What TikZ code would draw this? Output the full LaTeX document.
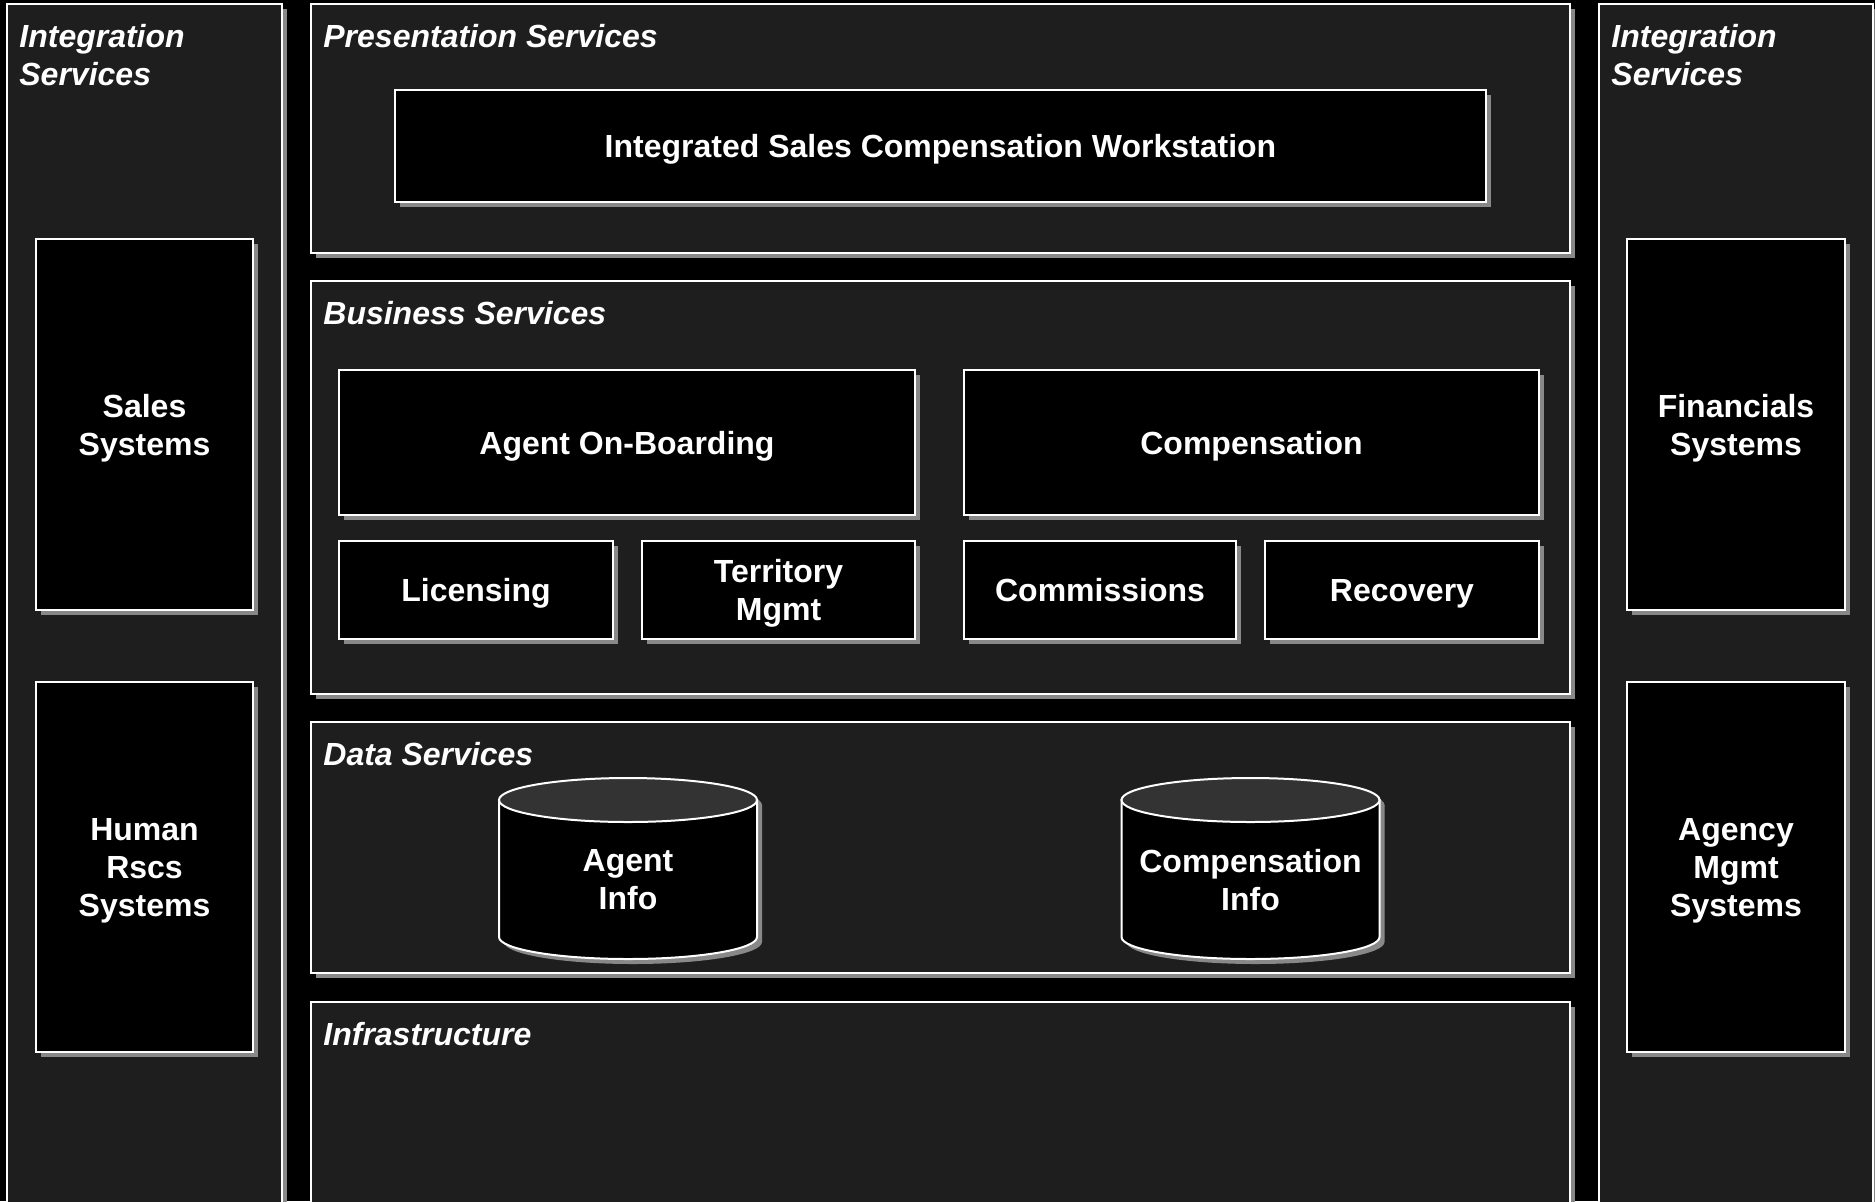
\documentclass[tikz,border=0pt]{standalone}
\usepackage{fontspec}
\setmainfont{Liberation Sans}
\usepackage{tikz}
\usetikzlibrary{shadows}
\definecolor{PanelGrey}{RGB}{30,30,30}
\definecolor{ShadowGrey}{RGB}{136,136,136}
\definecolor{CylTop}{RGB}{51,51,51}
\newlength\pxu
\setlength\pxu{0.5pt}

\begin{document}
\begin{tikzpicture}[x=\pxu,y=-\pxu,
  shd/.style={drop shadow={shadow xshift=2.5pt,shadow yshift=-2.5pt,fill=ShadowGrey,opacity=1}},
  panel/.style n args={2}{draw=white,line width=1pt,fill=PanelGrey,minimum width=#1*\pxu,minimum height=#2*\pxu,inner sep=0pt,shd},
  blk/.style n args={2}{draw=white,line width=1pt,fill=black,text=white,align=center,font=\bfseries\fontsize{16}{19}\selectfont,text depth=0pt,minimum width=#1*\pxu,minimum height=#2*\pxu,inner sep=0pt,shd},
  lbl/.style={text=white,font=\bfseries\itshape\fontsize{16}{19}\selectfont,align=left,anchor=north west,inner sep=0pt},
  dbtext/.style={text=white,align=center,font=\bfseries\fontsize{16}{19}\selectfont,inner sep=0pt}]
\useasboundingbox (0,0) rectangle (1875,1201);
\clip (0,0) rectangle (1875,1201);
\fill[black] (0,0) rectangle (1875,1201);
% layers
\node[panel={275}{1211}] (intL) at (144.5,609.5) {};
\node[panel={274}{1211}] (intR) at (1736,609.5) {};
\node[panel={1259}{249}] (pres) at (940.5,128.5) {};
\node[panel={1259}{413}] (bus) at (940.5,487.5) {};
\node[panel={1259}{251}] (data) at (940.5,847.5) {};
\node[panel={1259}{213}] (infra) at (940.5,1108.5) {};
\node[lbl] (intLlbl) at ([shift={(13,21)}]intL.north west) {Integration\\Services};
\node[lbl] (intRlbl) at ([shift={(13,21)}]intR.north west) {Integration\\Services};
\node[lbl] (preslbl) at ([shift={(13,21)}]pres.north west) {Presentation Services};
\node[lbl] (buslbl) at ([shift={(13,21)}]bus.north west) {Business Services};
\node[lbl] (datalbl) at ([shift={(13,21)}]data.north west) {Data Services};
\node[lbl] (infralbl) at ([shift={(13,21)}]infra.north west) {Infrastructure};
% boxes
\node[blk={1091}{112}] (wks) at (940.5,146) {Integrated Sales Compensation Workstation};
\node[blk={576}{145}] (onboard) at (627,442.5) {Agent On-Boarding};
\node[blk={575}{145}] (comp) at (1251.5,442.5) {Compensation};
\node[blk={274}{98}] (lic) at (476,590) {Licensing};
\node[blk={273}{98}] (terr) at (778.5,590) {Territory\\Mgmt};
\node[blk={272}{98}] (comm) at (1100,590) {Commissions};
\node[blk={274}{98}] (recov) at (1402,590) {Recovery};
\node[blk={217}{371}] (sales) at (144.5,424.5) {Sales\\Systems};
\node[blk={217}{370}] (hr) at (144.5,867) {Human\\Rscs\\Systems};
\node[blk={218}{371}] (fin) at (1736,424.5) {Financials\\Systems};
\node[blk={218}{370}] (agency) at (1736,867) {Agency\\Mgmt\\Systems};
% data stores
\foreach \cx/\nm/\txt in {628/agentinfo/{Agent\\Info},1250.5/compinfo/{Compensation\\Info}} {
  \fill[ShadowGrey] (\cx-124,805) -- (\cx-124,942)
    arc[start angle=180,end angle=360,x radius=64.5pt,y radius=11pt] -- (\cx+134,805) -- cycle;
  \fill[ShadowGrey] (\cx+5,805) ellipse[x radius=64.5pt,y radius=11pt];
  \filldraw[fill=black,draw=white,line width=1pt] (\cx-129,800) -- (\cx-129,937)
    arc[start angle=180,end angle=360,x radius=64.5pt,y radius=11pt] -- (\cx+129,800) -- cycle;
  \filldraw[fill=CylTop,draw=white,line width=1pt] (\cx,800) ellipse[x radius=64.5pt,y radius=11pt];
  \node[dbtext] (\nm) at (\cx,880) {\txt};
}
\end{tikzpicture}
\end{document}
